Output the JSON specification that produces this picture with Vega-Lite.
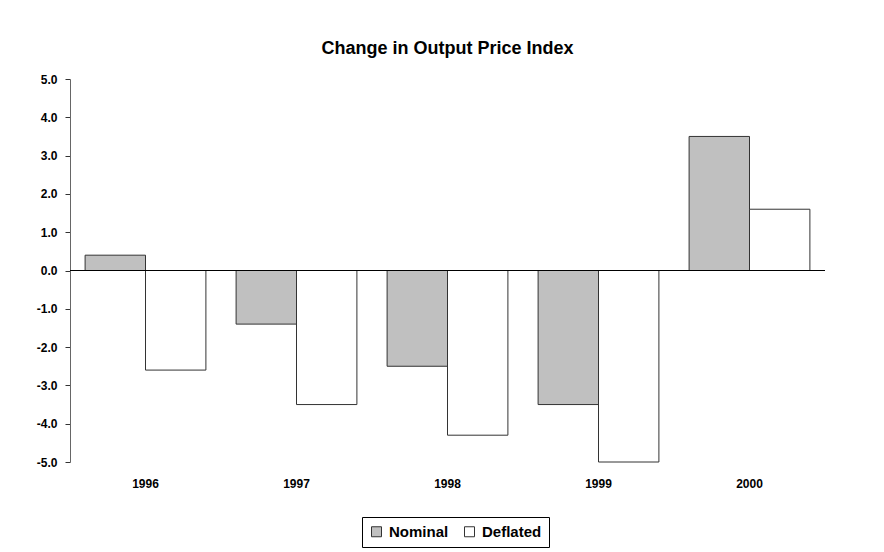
{
  "$schema": "https://vega.github.io/schema/vega-lite/v6.json",
  "autosize": {"type": "none"},
  "width": 755,
  "height": 383,
  "padding": {"left": 70, "top": 79, "right": 59, "bottom": 90},
  "background": "white",
  "title": {
    "text": "Change in Output Price Index",
    "font": "Liberation Sans",
    "fontSize": 18,
    "fontWeight": "bold",
    "color": "black",
    "anchor": "middle",
    "offset": 15
  },
  "config": {
    "view": {"stroke": null},
    "font": "Liberation Sans",
    "axis": {"grid": false, "labelFont": "Liberation Sans", "labelFontWeight": "bold", "labelColor": "black", "labelFontSize": 12}
  },
  "data": {
    "values": [
      {"year": "1996", "series": "Nominal", "value": 0.4},
      {"year": "1996", "series": "Deflated", "value": -2.6},
      {"year": "1997", "series": "Nominal", "value": -1.4},
      {"year": "1997", "series": "Deflated", "value": -3.5},
      {"year": "1998", "series": "Nominal", "value": -2.5},
      {"year": "1998", "series": "Deflated", "value": -4.3},
      {"year": "1999", "series": "Nominal", "value": -3.5},
      {"year": "1999", "series": "Deflated", "value": -5.0},
      {"year": "2000", "series": "Nominal", "value": 3.5},
      {"year": "2000", "series": "Deflated", "value": 1.6}
    ]
  },
  "layer": [
    {
      "mark": {"type": "bar", "stroke": "#333333", "strokeWidth": 1},
      "encoding": {
        "x": {
          "field": "year", "type": "nominal", "title": null,
          "scale": {"paddingInner": 0.2, "paddingOuter": 0.1},
          "axis": {"orient": "bottom", "domain": false, "ticks": false, "labelPadding": 16, "labelAngle": 0}
        },
        "xOffset": {"field": "series", "type": "nominal", "sort": ["Nominal", "Deflated"], "scale": {"paddingInner": 0, "paddingOuter": 0}},
        "y": {
          "field": "value", "type": "quantitative", "title": null,
          "scale": {"domain": [-5, 5], "nice": false},
          "axis": {"values": [-5, -4, -3, -2, -1, 0, 1, 2, 3, 4, 5], "tickCount": 11, "format": ".1f", "labelExpr": "replace(datum.label, '\u2212', '-')", "labelOverlap": false, "domainColor": "#666666", "tickColor": "#333333", "tickSize": 5, "labelPadding": 8}
        },
        "fill": {
          "field": "series", "type": "nominal", "sort": ["Nominal", "Deflated"],
          "scale": {"domain": ["Nominal", "Deflated"], "range": ["#c0c0c0", "#ffffff"]},
          "legend": {
            "title": null, "orient": "none", "legendX": 292, "legendY": 438, "direction": "horizontal",
            "symbolType": "square", "symbolSize": 100, "symbolStrokeColor": "#333333", "symbolStrokeWidth": 1,
            "labelFont": "Liberation Sans", "labelFontSize": 15, "labelFontWeight": "bold", "labelColor": "black",
            "strokeColor": "black", "padding": 7, "columnPadding": 13, "labelOffset": 5
          }
        }
      }
    },
    {
      "mark": {"type": "rule", "color": "black", "strokeWidth": 1},
      "encoding": {"y": {"datum": 0, "type": "quantitative"}}
    }
  ]
}
